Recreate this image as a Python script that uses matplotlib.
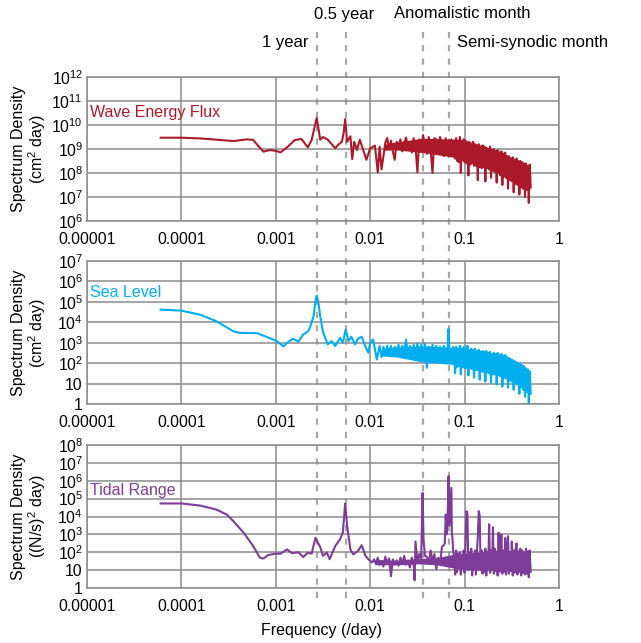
import numpy as np
import matplotlib
matplotlib.use("Agg")
import matplotlib.pyplot as plt
from matplotlib.ticker import NullLocator

plt.rcParams['font.family'] = ['Liberation Sans', 'DejaVu Sans']
plt.rcParams['mathtext.fontset'] = 'custom'
plt.rcParams['mathtext.rm'] = 'Liberation Sans'
plt.rcParams['mathtext.it'] = 'Liberation Sans:italic'

# ---------------- data (log10 frequency [1/day], log10 spectral density) ----------------
x_ticks = [1e-5, 1e-4, 1e-3, 1e-2, 1e-1, 1]
x_tick_labels = ['0.00001', '0.0001', '0.001', '0.01', '0.1', '1']

period_days = [365.25, 182.6, 27.55, 14.77]
period_names = ['1 year', '0.5 year', 'Anomalistic month', 'Semi-synodic month']

# Wave energy flux: low / mid frequency part
wave_logf = [-4.22, -4.0, -3.8, -3.6, -3.45, -3.31, -3.24, -3.18, -3.13, -3.06, -3.0, -2.95,
             -2.88, -2.80, -2.73, -2.66, -2.62, -2.59, -2.567, -2.55, -2.53, -2.5, -2.45,
             -2.37, -2.34, -2.30, -2.28, -2.265, -2.245, -2.21, -2.19, -2.17, -2.14, -2.11,
             -2.08, -2.04, -2.0, -1.95, -1.92, -1.90, -1.88, -1.84, -1.82,
             -1.80, -1.78, -1.76, -1.74, -1.72, -1.70, -1.68, -1.66, -1.64, -1.62, -1.60,
             -1.58, -1.56, -1.54, -1.52, -1.50, -1.48, -1.46, -1.44, -1.42, -1.40, -1.38,
             -1.36, -1.34, -1.32, -1.30, -1.28, -1.26, -1.24, -1.22, -1.20, -1.18, -1.16,
             -1.14, -1.12, -1.10]
wave_logS = [9.47, 9.47, 9.44, 9.38, 9.33, 9.40, 9.38, 9.10, 8.89, 8.96, 8.92, 8.86,
             9.07, 9.37, 9.42, 9.07, 9.38, 9.90, 10.29, 9.90, 9.39, 9.50, 9.39,
             9.03, 9.17, 9.30, 9.70, 10.25, 9.30, 9.53, 8.58, 9.30, 8.96, 9.39,
             9.03, 8.55, 9.03, 9.14, 8.03, 9.10, 8.15, 9.25, 9.46,
             9.00, 9.35, 8.90, 8.55, 9.30, 9.00, 9.40, 8.90, 9.25, 9.48, 8.95,
             9.30, 8.85, 9.45, 9.10, 8.03, 9.40, 9.00, 9.58, 9.10, 8.80, 9.50,
             9.00, 8.00, 9.45, 9.40, 8.95, 9.50, 9.20, 8.70, 9.45, 9.05, 8.75,
             9.40, 9.00, 8.60]

# Sea level: low / mid frequency part
sea_logf = [-4.22, -4.0, -3.8, -3.63, -3.5, -3.45, -3.38, -3.2, -3.10, -2.99, -2.92, -2.87,
            -2.82, -2.76, -2.71, -2.66, -2.64, -2.60, -2.58, -2.567, -2.55, -2.53, -2.5,
            -2.45, -2.41, -2.37, -2.32, -2.29, -2.26, -2.23, -2.20, -2.16, -2.13, -2.09,
            -2.05, -2.02, -2.0, -1.97, -1.93, -1.90,
            -1.88, -1.86, -1.84, -1.82, -1.80, -1.78, -1.76, -1.74, -1.72, -1.70, -1.68,
            -1.66, -1.64, -1.62, -1.60, -1.58, -1.56, -1.54, -1.52, -1.50, -1.48, -1.46,
            -1.44, -1.42, -1.40, -1.38, -1.36, -1.34, -1.32, -1.30, -1.28, -1.26, -1.24,
            -1.22, -1.20, -1.18, -1.17, -1.16, -1.14, -1.12, -1.10]
sea_logS = [4.62, 4.57, 4.37, 4.05, 3.70, 3.56, 3.48, 3.47, 3.29, 3.08, 2.82, 3.03,
            3.19, 3.06, 3.40, 3.55, 3.72, 4.30, 5.00, 5.31, 5.00, 4.30, 3.52,
            2.92, 3.08, 2.84, 3.24, 3.00, 3.64, 3.08, 3.29, 2.92, 3.20, 3.29,
            2.80, 2.51, 3.00, 3.16, 2.18, 2.84,
            2.30, 2.80, 2.40, 2.85, 2.45, 2.85, 2.35, 2.80, 2.50, 2.90, 2.40,
            2.85, 2.55, 3.16, 2.30, 2.85, 2.45, 2.90, 2.30, 2.95, 2.20, 2.90,
            2.40, 2.95, 1.78, 2.80, 2.40, 2.90, 2.30, 2.85, 2.20, 2.80, 2.45,
            2.85, 2.10, 2.75, 3.67, 2.50, 2.20, 2.80, 1.50]

# Tidal range: low / mid frequency part
tide_logf = [-4.22, -4.0, -3.8, -3.63, -3.52, -3.45, -3.34, -3.24, -3.17, -3.13, -3.08, -3.0,
             -2.95, -2.88, -2.83, -2.76, -2.71, -2.66, -2.62, -2.58, -2.56, -2.53, -2.50,
             -2.46, -2.43, -2.37, -2.32, -2.29, -2.265, -2.245, -2.21, -2.18, -2.13, -2.09,
             -2.05, -2.02, -1.98,
             -1.96, -1.94, -1.92, -1.90, -1.88, -1.86, -1.84, -1.82, -1.80, -1.78, -1.76,
             -1.74, -1.72, -1.70, -1.68, -1.66, -1.64, -1.62, -1.60, -1.58, -1.56, -1.54,
             -1.53, -1.52, -1.50, -1.48, -1.46, -1.445, -1.435, -1.42, -1.40, -1.38, -1.36,
             -1.34, -1.32, -1.30, -1.28, -1.26, -1.24, -1.22, -1.21, -1.20, -1.19, -1.18,
             -1.17, -1.16, -1.15, -1.14, -1.135, -1.13, -1.12, -1.11, -1.10]
tide_logS = [4.73, 4.73, 4.61, 4.39, 4.11, 3.74, 3.09, 2.35, 1.70, 1.65, 1.85, 1.92,
             1.92, 2.16, 1.95, 2.00, 1.73, 1.98, 1.92, 2.81, 2.60, 2.30, 1.80,
             1.98, 1.61, 2.35, 2.72, 3.10, 4.73, 3.50, 2.16, 1.88, 2.07, 2.39,
             1.80, 1.61, 1.43,
             1.60, 1.35, 1.70, 1.30, 1.50, 1.20, 1.75, 1.40, 1.65, 0.66, 1.60,
             1.30, 1.55, 1.25, 1.70, 1.35, 1.80, 1.30, 1.55, 1.15, 1.70, 1.30,
             0.43, 2.60, 1.50, 1.90, 1.60, 5.32, 2.70, 1.80, 1.75, 1.40, 2.10,
             1.50, 1.90, 1.05, 1.70, 1.30, 2.30, 2.40, 2.50, 4.11, 3.00, 3.80,
             6.25, 3.50, 4.50, 5.60, 3.00, 2.90, 2.00, 1.80, 0.75]

# High-frequency dense band (shared log10 frequency positions)
band_logf = [-1.09, -1.08, -1.07, -1.06, -1.05, -1.04, -1.03, -1.02, -1.01, -1.00,
             -0.99, -0.98, -0.97, -0.96, -0.95, -0.94, -0.93, -0.92, -0.91, -0.90,
             -0.89, -0.88, -0.87, -0.86, -0.85, -0.84, -0.83, -0.82, -0.81, -0.80,
             -0.79, -0.78, -0.77, -0.76, -0.75, -0.74, -0.73, -0.72, -0.71, -0.70,
             -0.69, -0.68, -0.67, -0.66, -0.65, -0.64, -0.63, -0.62, -0.61, -0.60,
             -0.59, -0.58, -0.57, -0.56, -0.55, -0.54, -0.53, -0.52, -0.51, -0.50,
             -0.49, -0.48, -0.47, -0.46, -0.45, -0.44, -0.43, -0.42, -0.41, -0.40,
             -0.39, -0.38, -0.37, -0.36, -0.35, -0.34, -0.33, -0.32, -0.31, -0.30]
wave_band = [9.45, 8.50, 9.30, 8.45, 9.50, 8.00, 9.30, 8.55, 9.40, 8.45,
             9.35, 8.40, 9.25, 7.90, 9.30, 8.35, 9.20, 8.40, 9.30, 8.30,
             9.20, 8.30, 9.10, 7.70, 9.20, 8.25, 9.05, 8.20, 9.15, 8.25,
             9.10, 7.65, 9.05, 8.20, 9.00, 8.15, 9.10, 7.80, 8.95, 8.10,
             9.00, 8.05, 8.90, 7.60, 8.95, 8.00, 8.85, 7.90, 8.90, 7.50,
             8.80, 7.85, 8.85, 7.80, 8.70, 7.35, 8.70, 7.70, 8.60, 7.65,
             8.65, 7.20, 8.55, 7.55, 8.60, 7.50, 8.50, 7.10, 8.50, 7.40,
             8.45, 7.35, 8.40, 7.00, 8.40, 7.30, 8.30, 6.75, 8.35, 7.40]
sea_band = [2.80, 1.80, 2.70, 1.85, 2.85, 1.45, 2.70, 1.80, 2.80, 1.75,
            2.70, 1.75, 2.85, 1.40, 2.65, 1.75, 2.70, 1.70, 2.65, 1.30,
            2.70, 1.65, 2.60, 1.65, 2.65, 1.20, 2.55, 1.60, 2.60, 1.55,
            2.55, 1.10, 2.60, 1.55, 2.50, 1.50, 2.55, 1.05, 2.45, 1.45,
            2.50, 1.45, 2.45, 0.95, 2.50, 1.40, 2.40, 1.35, 2.45, 0.85,
            2.35, 1.30, 2.40, 1.25, 2.30, 0.80, 2.25, 1.15, 2.20, 1.10,
            2.15, 0.70, 2.10, 1.00, 2.05, 0.95, 2.00, 0.50, 1.95, 0.85,
            1.90, 0.70, 1.85, 0.35, 1.75, 0.60, 1.70, 0.05, 1.60, 0.50]
tide_band = [2.10, 0.90, 1.90, 1.20, 2.00, 0.75, 1.80, 1.10, 2.10, 0.85,
             2.60, 4.30, 4.15, 1.00, 2.00, 1.10, 2.20, 0.70, 1.90, 1.05,
             2.10, 0.75, 2.00, 2.90, 4.30, 4.05, 1.00, 2.10, 0.80, 1.95,
             0.90, 2.20, 0.70, 2.00, 1.10, 3.57, 0.85, 2.10, 1.00, 3.40,
             0.80, 2.20, 0.95, 2.05, 0.70, 3.10, 0.90, 2.15, 3.00, 0.80,
             2.10, 0.90, 2.80, 0.75, 2.20, 2.90, 0.80, 2.00, 0.95, 2.60,
             0.70, 2.10, 0.85, 2.15, 2.50, 0.75, 2.05, 0.90, 2.20, 0.70,
             2.10, 0.85, 2.00, 0.75, 2.20, 0.80, 2.05, 0.60, 2.10, 0.90]

# Solid core of the noisy spectra (upper / lower edges)
wave_core_logf = [-1.85, -1.72, -1.44, -1.02, -0.66, -0.45, -0.31]
wave_core_hi = [9.20, 9.30, 9.45, 9.40, 8.95, 8.55, 8.30]
wave_core_lo = [8.95, 8.96, 8.85, 8.60, 8.10, 7.60, 7.30]
sea_core_logf = [-1.88, -1.72, -1.44, -1.01, -0.66, -0.50, -0.31]
sea_core_hi = [2.70, 2.80, 2.85, 2.75, 2.40, 2.10, 1.50]
sea_core_lo = [2.35, 2.30, 2.05, 1.90, 1.55, 1.20, 0.45]
tide_core_logf = [-1.95, -1.70, -1.50, -1.30, -1.10, -0.90, -0.60, -0.31]
tide_core_hi = [1.60, 1.55, 1.65, 1.70, 1.90, 2.00, 2.00, 1.95]
tide_core_lo = [1.30, 1.30, 1.35, 1.30, 1.10, 1.00, 1.00, 0.95]

series_names = ['Wave Energy Flux', 'Sea Level', 'Tidal Range']
series_colors = ['#AB1A2B', '#00AEEF', '#7D3C98']
y_decades = [(6, 12), (0, 7), (0, 8)]
y_labels = ['Spectrum Density\n(cm$^2$ day)', 'Spectrum Density\n(cm$^2$ day)',
            'Spectrum Density\n((N/s)$^2$ day)']

# ---------------- figure ----------------
W, H = 641, 643
fig = plt.figure(figsize=(W / 100, H / 100), dpi=100)

grid_c = '#8C8C8C'
dash_c = '#A8A8A8'
fs = 11.3

ax_left, ax_right = 87, 559
panel_px = [(77, 221), (261, 404), (445, 588)]
label_ypos = [0.75, 0.783, 0.685]

def frac_rect(top, bottom):
    return [ax_left / W, 1 - bottom / H, (ax_right - ax_left) / W, (bottom - top) / H]

# overlay for the dashed period lines spanning all panels
ov = fig.add_axes([ax_left / W, 0, (ax_right - ax_left) / W, 1], zorder=0)
ov.set_xscale('log')
ov.set_xlim(1e-5, 1)
ov.set_ylim(0, 1)
ov.axis('off')
period_freq = [1.0 / p for p in period_days]
ov.vlines(period_freq, 1 - 598 / H, 1 - 32 / H, colors=dash_c, linewidth=1.6,
          linestyles=(0, (2.8, 3.2)))

all_logf = [wave_logf, sea_logf, tide_logf]
all_logS = [wave_logS, sea_logS, tide_logS]
all_band = [wave_band, sea_band, tide_band]
all_core = [(wave_core_logf, wave_core_hi, wave_core_lo),
            (sea_core_logf, sea_core_hi, sea_core_lo),
            (tide_core_logf, tide_core_hi, tide_core_lo)]

for i in range(3):
    top, bottom = panel_px[i]
    ax = fig.add_axes(frac_rect(top, bottom), zorder=1)
    ax.set_facecolor('none')
    f = 10 ** np.array(all_logf[i] + band_logf)
    s = 10 ** np.array(all_logS[i] + all_band[i])
    cf, chi, clo = all_core[i]
    ax.fill_between(10 ** np.array(cf), 10 ** np.array(clo), 10 ** np.array(chi),
                    color=series_colors[i], lw=0, zorder=2.9)
    ax.plot(f, s, color=series_colors[i], lw=1.5, zorder=3)
    ax.set_xscale('log')
    ax.set_yscale('log')
    ax.set_xlim(1e-5, 1)
    lo, hi = y_decades[i]
    ax.set_ylim(10.0 ** lo, 10.0 ** hi)
    yt = [10.0 ** k for k in range(lo, hi + 1)]
    ylab = []
    for k in range(lo, hi + 1):
        if k == 0:
            ylab.append('1')
        elif k == 1 and lo == 0:
            ylab.append('10')
        else:
            ylab.append(r'$\mathregular{10^{%d}}$' % k)
    ax.set_yticks(yt)
    ax.set_yticklabels(ylab)
    ax.set_xticks(x_ticks)
    ax.set_xticklabels(x_tick_labels)
    ax.xaxis.set_minor_locator(NullLocator())
    ax.yaxis.set_minor_locator(NullLocator())
    ax.grid(True, which='major', color=grid_c, lw=1.1)
    ax.set_axisbelow(True)
    for sp in ax.spines.values():
        sp.set_color(grid_c)
        sp.set_linewidth(1.1)
    ax.tick_params(axis='both', length=0, labelsize=fs)
    ax.tick_params(axis='x', pad=8)
    ax.tick_params(axis='y', pad=3)
    ax.set_ylabel(y_labels[i], fontsize=11.5, linespacing=1.0)
    ax.yaxis.set_label_coords(-0.083, 0.5)
    ax.text(0.006, label_ypos[i], series_names[i], transform=ax.transAxes,
            color=series_colors[i], fontsize=11.5, ha='left', va='center')

# period annotations
fig.text(308 / W, 1 - 42 / H, period_names[0], fontsize=12, ha='right', va='center')
fig.text(344 / W, 1 - 14 / H, period_names[1], fontsize=12, ha='center', va='center')
fig.text(394 / W, 1 - 14 / H, period_names[2], fontsize=12, ha='left', va='center')
fig.text(457 / W, 1 - 42 / H, period_names[3], fontsize=12, ha='left', va='center')

fig.text(322 / W, 1 - 631 / H, 'Frequency (/day)', fontsize=11.5, ha='center', va='center')

fig.savefig('out.png', dpi=100)
